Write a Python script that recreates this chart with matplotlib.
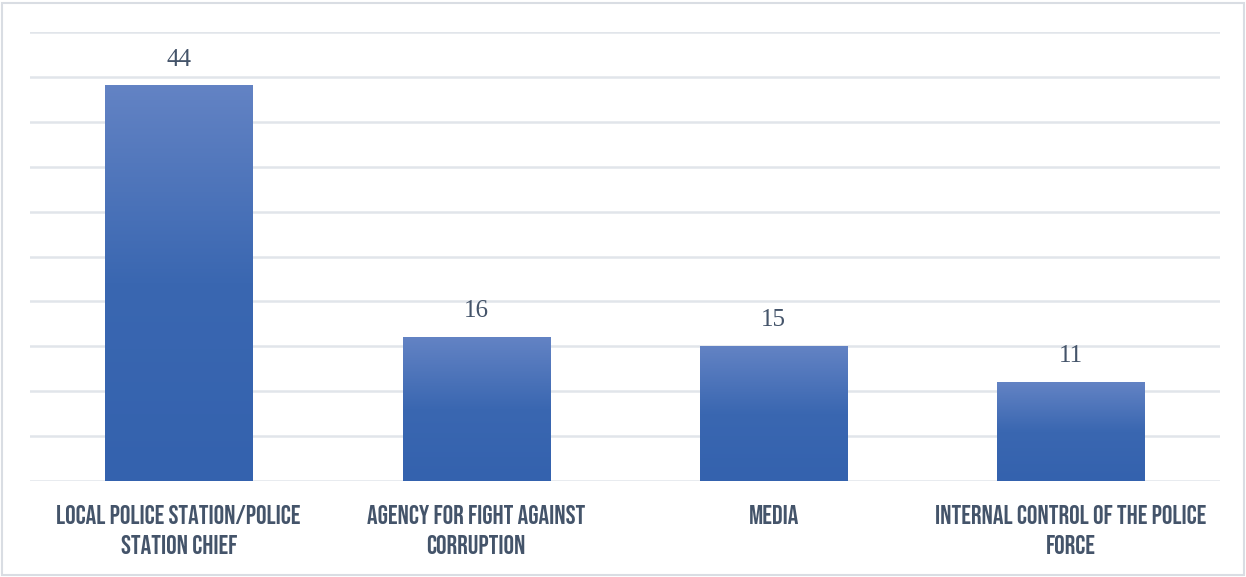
import matplotlib
matplotlib.use("Agg")
import matplotlib.pyplot as plt
import numpy as np
from matplotlib.colors import LinearSegmentedColormap
from matplotlib.patches import Rectangle

categories = ["LOCAL POLICE STATION/POLICE\nSTATION CHIEF",
              "AGENCY FOR FIGHT AGAINST\nCORRUPTION",
              "MEDIA",
              "INTERNAL CONTROL OF THE POLICE\nFORCE"]
values = [44, 16, 15, 11]

fig = plt.figure(figsize=(12.46, 5.77), dpi=100)
fig.patch.set_facecolor("white")
fig.add_artist(Rectangle((0.002, 0.003), 0.996, 0.992, transform=fig.transFigure,
                         fill=False, edgecolor="#D9DDE3", linewidth=1.5))
ax = fig.add_axes([0.024, 0.1664, 0.955, 0.778])

x = np.arange(len(values))
bars = ax.bar(x, values, width=0.495, color="none", zorder=3)
ax.set_yticks(np.arange(0, 51, 5))
ax.yaxis.grid(True, color="#E1E5EA", linewidth=1.8, zorder=0)
ax.set_axisbelow(True)
for s in ax.spines.values():
    s.set_visible(False)
ax.tick_params(axis="y", length=0, labelleft=False)
ax.tick_params(axis="x", length=0, pad=17)

cmap = LinearSegmentedColormap.from_list("g", ["#3462AE", "#3A67B1", "#6383C4"])
grad = np.linspace(0, 1, 256).reshape(-1, 1)
for b in bars:
    x0, w, h = b.get_x(), b.get_width(), b.get_height()
    ax.imshow(grad, cmap=cmap, origin="lower", aspect="auto",
              extent=[x0, x0 + w, 0, h], zorder=3)
    ax.text(x0 + w / 2, h + 2.25, f"{h:g}", ha="center", va="baseline",
            fontsize=18, family=["Liberation Serif"], color="#44546A", zorder=4)
ax.set_xlim(-0.5, len(values) - 0.5)
ax.set_ylim(0, 50)

ax.set_xticks(x)
ax.set_xticklabels(categories, fontsize=19, family=["Bebas Neue", "DejaVu Sans"],
                   color="#44546A", linespacing=1.6)

fig.savefig("out.png", dpi=100, facecolor="white")
